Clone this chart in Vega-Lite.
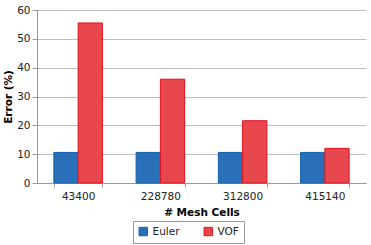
{
  "$schema": "https://vega.github.io/schema/vega-lite/v6.json",
  "width": 329,
  "height": 173,
  "autosize": {"type": "none"},
  "padding": {"left": 37, "top": 10, "right": 5, "bottom": 62},
  "background": "white",
  "data": {
    "values": [
      {"cells": "43400", "method": "Euler", "error": 10.6},
      {"cells": "43400", "method": "VOF", "error": 55.5},
      {"cells": "228780", "method": "Euler", "error": 10.6},
      {"cells": "228780", "method": "VOF", "error": 36.0},
      {"cells": "312800", "method": "Euler", "error": 10.6},
      {"cells": "312800", "method": "VOF", "error": 21.6},
      {"cells": "415140", "method": "Euler", "error": 10.6},
      {"cells": "415140", "method": "VOF", "error": 12.0}
    ]
  },
  "config": {
    "font": "DejaVu Sans",
    "view": {"stroke": null}
  },
  "mark": {"type": "bar", "strokeWidth": 1},
  "encoding": {
    "x": {
      "field": "cells",
      "type": "nominal",
      "sort": null,
      "scale": {"paddingInner": 0.41, "paddingOuter": 0.205},
      "axis": {
        "title": "# Mesh Cells",
        "titleFontSize": 10.5,
        "titleFontWeight": "bold",
        "titleColor": "#000",
        "titlePadding": 6,
        "labelAngle": 0,
        "labelFontSize": 10.5,
        "labelColor": "#222",
        "labelPadding": 4,
        "tickBand": "extent",
        "tickSize": 4,
        "tickColor": "#999",
        "domainColor": "#999",
        "grid": false
      }
    },
    "xOffset": {"field": "method", "type": "nominal"},
    "y": {
      "field": "error",
      "type": "quantitative",
      "scale": {"domain": [0, 60], "nice": false},
      "axis": {
        "title": "Error (%)",
        "titleFontSize": 10.5,
        "titleFontWeight": "bold",
        "titleColor": "#000",
        "titlePadding": 3,
        "values": [0, 10, 20, 30, 40, 50, 60],
        "labelFontSize": 10.5,
        "labelColor": "#222",
        "labelPadding": 2,
        "tickSize": 5,
        "tickColor": "#999",
        "domainColor": "#999",
        "gridColor": "#bdbdbd",
        "gridWidth": 1.2
      }
    },
    "color": {
      "field": "method",
      "type": "nominal",
      "scale": {"domain": ["Euler", "VOF"], "range": ["#2a70b8", "#e8484d"]},
      "legend": {
        "title": null,
        "orient": "none",
        "legendX": 96,
        "legendY": 211,
        "direction": "horizontal",
        "symbolType": "square",
        "symbolSize": 70,
        "symbolStrokeWidth": 1,
        "labelFontSize": 10.5,
        "labelColor": "#222",
        "columnPadding": 22,
        "strokeColor": "#999",
        "padding": 5,
        "offset": 0
      }
    },
    "stroke": {
      "field": "method",
      "type": "nominal",
      "scale": {"domain": ["Euler", "VOF"], "range": ["#1060b0", "#e0101a"]},
      "legend": null
    }
  }
}
